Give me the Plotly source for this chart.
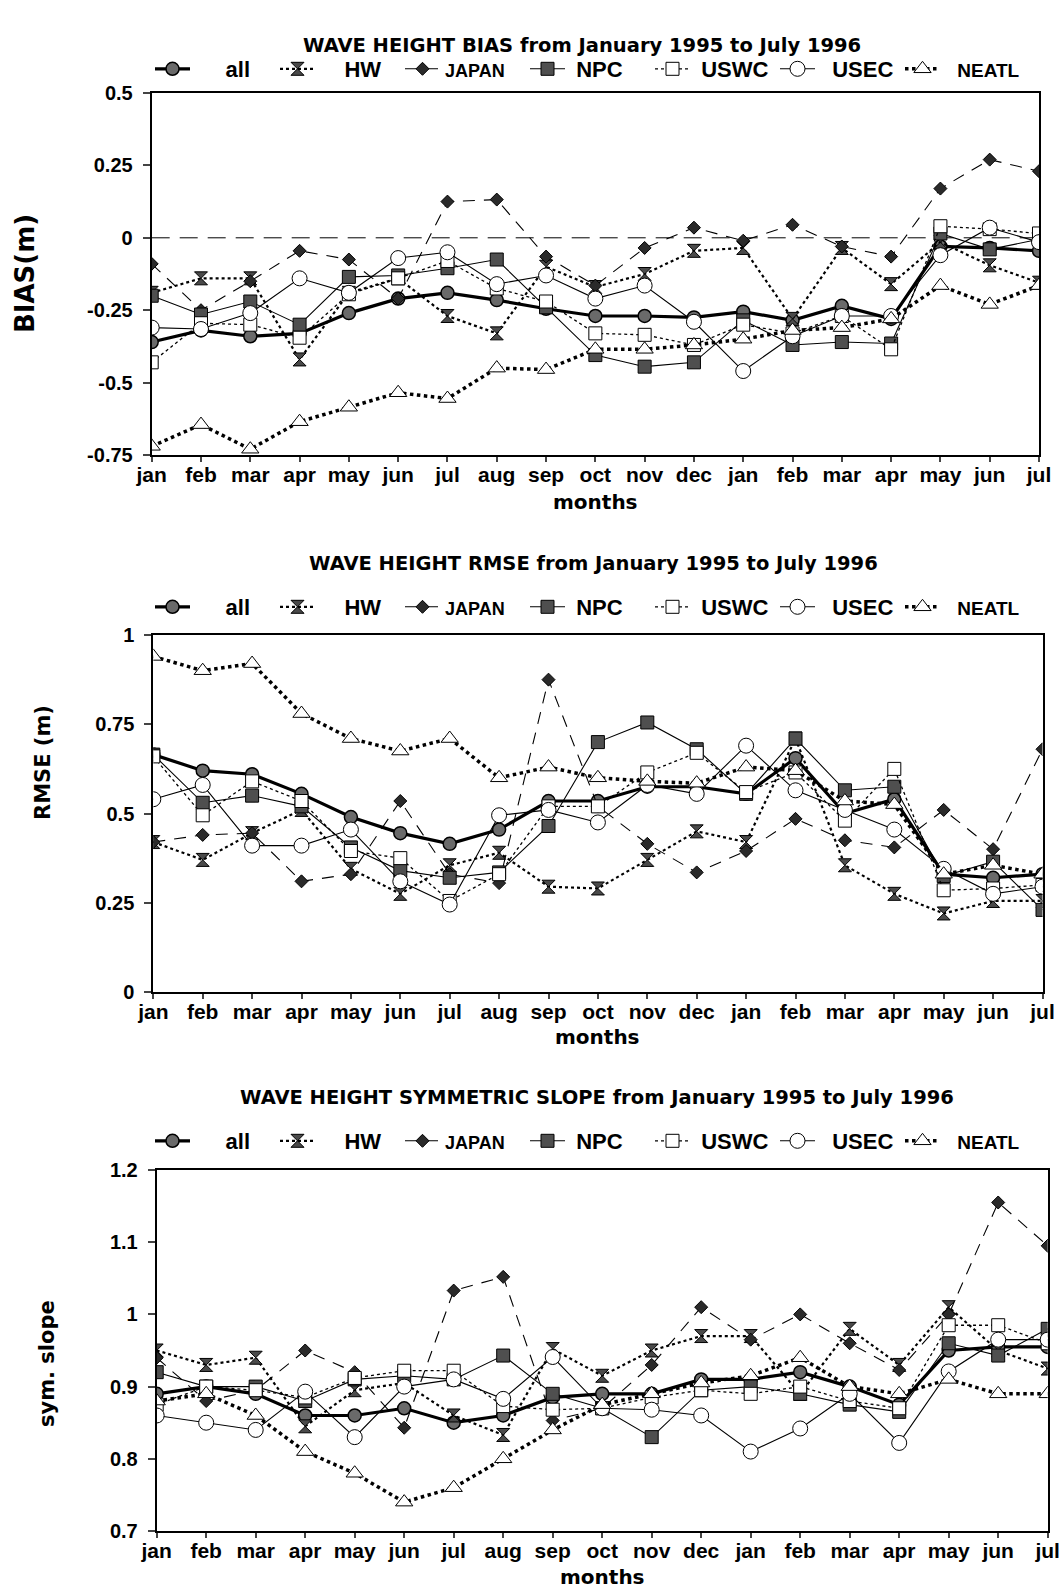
import plotly.graph_objects as go

months = ["jan", "feb", "mar", "apr", "may", "jun", "jul", "aug", "sep", "oct",
          "nov", "dec", "jan", "feb", "mar", "apr", "may", "jun", "jul"]
series_names = ["all", "HW", "JAPAN", "NPC", "USWC", "USEC", "NEATL"]

# ---- BIAS (m) ----
bias_all = [-0.36, -0.32, -0.34, -0.33, -0.26, -0.21, -0.19, -0.215, -0.245, -0.27,
            -0.27, -0.275, -0.255, -0.285, -0.235, -0.28, -0.03, -0.035, -0.045]
bias_hw = [-0.19, -0.14, -0.14, -0.42, -0.19, -0.14, -0.27, -0.33, -0.10, -0.17,
           -0.125, -0.045, -0.035, -0.28, -0.035, -0.16, -0.015, -0.095, -0.155]
bias_japan = [-0.09, -0.25, -0.15, -0.045, -0.075, -0.21, 0.125, 0.132, -0.065, -0.165,
              -0.035, 0.035, -0.01, 0.045, -0.03, -0.065, 0.17, 0.27, 0.23]
bias_npc = [-0.20, -0.265, -0.22, -0.30, -0.135, -0.13, -0.105, -0.075, -0.24, -0.405,
            -0.445, -0.43, -0.285, -0.37, -0.36, -0.365, 0.015, -0.04, -0.005]
bias_uswc = [-0.43, -0.295, -0.30, -0.345, -0.195, -0.14, -0.08, -0.175, -0.22, -0.33,
             -0.335, -0.37, -0.30, -0.33, -0.27, -0.385, 0.04, 0.03, 0.015]
bias_usec = [-0.31, -0.315, -0.26, -0.14, -0.19, -0.07, -0.05, -0.16, -0.13, -0.21,
             -0.165, -0.29, -0.46, -0.34, -0.27, -0.27, -0.06, 0.035, -0.015]
bias_neatl = [-0.72, -0.645, -0.73, -0.635, -0.585, -0.535, -0.555, -0.45, -0.455, -0.385,
              -0.385, -0.37, -0.35, -0.32, -0.31, -0.28, -0.165, -0.23, -0.165]

# ---- RMSE (m) ----
rmse_all = [0.665, 0.62, 0.61, 0.555, 0.49, 0.445, 0.415, 0.455, 0.535, 0.535,
            0.575, 0.575, 0.555, 0.655, 0.50, 0.54, 0.33, 0.32, 0.33]
rmse_hw = [0.42, 0.37, 0.445, 0.51, 0.345, 0.275, 0.355, 0.39, 0.295, 0.29,
           0.37, 0.45, 0.42, 0.71, 0.355, 0.275, 0.22, 0.255, 0.255]
rmse_japan = [0.42, 0.44, 0.445, 0.31, 0.33, 0.535, 0.33, 0.305, 0.875, 0.52,
              0.415, 0.335, 0.395, 0.485, 0.425, 0.405, 0.51, 0.40, 0.68]
rmse_npc = [0.665, 0.53, 0.55, 0.52, 0.405, 0.34, 0.32, 0.335, 0.465, 0.70,
            0.755, 0.68, 0.555, 0.71, 0.565, 0.575, 0.325, 0.365, 0.23]
rmse_uswc = [0.66, 0.495, 0.59, 0.535, 0.395, 0.375, 0.255, 0.33, 0.52, 0.52,
             0.615, 0.67, 0.56, 0.615, 0.48, 0.625, 0.285, 0.29, 0.30]
rmse_usec = [0.54, 0.58, 0.41, 0.41, 0.455, 0.31, 0.245, 0.495, 0.51, 0.475,
             0.58, 0.555, 0.69, 0.565, 0.51, 0.455, 0.345, 0.275, 0.295]
rmse_neatl = [0.94, 0.90, 0.92, 0.78, 0.71, 0.675, 0.71, 0.60, 0.63, 0.60,
              0.59, 0.585, 0.63, 0.62, 0.535, 0.525, 0.33, 0.355, 0.33]

# ---- symmetric slope ----
slope_all = [0.89, 0.90, 0.89, 0.86, 0.86, 0.87, 0.85, 0.86, 0.885, 0.89,
             0.89, 0.91, 0.91, 0.92, 0.90, 0.875, 0.95, 0.955, 0.955]
slope_hw = [0.95, 0.93, 0.94, 0.845, 0.895, 0.905, 0.86, 0.833, 0.952, 0.915,
            0.95, 0.97, 0.97, 0.89, 0.98, 0.93, 1.01, 0.95, 0.925]
slope_japan = [0.94, 0.88, 0.895, 0.95, 0.92, 0.843, 1.033, 1.052, 0.853, 0.87,
               0.93, 1.01, 0.965, 1.0, 0.96, 0.923, 1.0, 1.155, 1.095]
slope_npc = [0.92, 0.90, 0.90, 0.88, 0.91, 0.915, 0.91, 0.943, 0.89, 0.87,
             0.83, 0.895, 0.90, 0.89, 0.875, 0.865, 0.96, 0.943, 0.98]
slope_uswc = [0.875, 0.90, 0.895, 0.885, 0.912, 0.922, 0.922, 0.873, 0.868, 0.87,
              0.885, 0.895, 0.89, 0.90, 0.88, 0.87, 0.985, 0.985, 0.96]
slope_usec = [0.86, 0.85, 0.84, 0.893, 0.83, 0.90, 0.91, 0.883, 0.941, 0.87,
              0.868, 0.86, 0.81, 0.842, 0.89, 0.822, 0.921, 0.965, 0.965]
slope_neatl = [0.88, 0.89, 0.86, 0.81, 0.78, 0.74, 0.76, 0.80, 0.84, 0.875,
               0.89, 0.905, 0.915, 0.94, 0.90, 0.89, 0.91, 0.89, 0.89]

bias_tickvals = [-0.75, -0.5, -0.25, 0, 0.25, 0.5]
bias_ticktext = ["-0.75", "-0.5", "-0.25", "0", "0.25", "0.5"]
rmse_tickvals = [0, 0.25, 0.5, 0.75, 1]
rmse_ticktext = ["0", "0.25", "0.5", "0.75", "1"]
slope_tickvals = [0.7, 0.8, 0.9, 1.0, 1.1, 1.2]
slope_ticktext = ["0.7", "0.8", "0.9", "1", "1.1", "1.2"]

titles = ["WAVE HEIGHT BIAS from January 1995 to July 1996",
          "WAVE HEIGHT RMSE from January 1995 to July 1996",
          "WAVE HEIGHT SYMMETRIC SLOPE from January 1995 to July 1996"]
ylabels = ["BIAS(m)", "RMSE (m)", "sym. slope"]

ARIAL = "Liberation Sans, Arial, Helvetica, sans-serif"
WIDE = "DejaVu Sans, Verdana, sans-serif"
W, H = 1059, 1589

styles = {
    "all":   dict(line=dict(color="black", width=3.2, dash="solid"),
                  marker=dict(symbol="circle", size=13, color="#6a6a6a", line=dict(color="black", width=1.5))),
    "HW":    dict(line=dict(color="black", width=2.2, dash="dot"),
                  marker=dict(symbol="hourglass", size=13, color="#4a4a4a", line=dict(color="black", width=1))),
    "JAPAN": dict(line=dict(color="black", width=1.1, dash="12px,9px"),
                  marker=dict(symbol="diamond", size=10, color="#2a2a2a", line=dict(color="black", width=1))),
    "NPC":   dict(line=dict(color="black", width=1.1, dash="solid"),
                  marker=dict(symbol="square", size=13, color="#4f4f4f", line=dict(color="black", width=1))),
    "USWC":  dict(line=dict(color="black", width=1.3, dash="dot"),
                  marker=dict(symbol="square", size=13, color="white", line=dict(color="black", width=1))),
    "USEC":  dict(line=dict(color="black", width=1.1, dash="solid"),
                  marker=dict(symbol="circle", size=15, color="white", line=dict(color="black", width=1))),
    "NEATL": dict(line=dict(color="black", width=3.5, dash="dot"),
                  marker=dict(symbol="triangle-up", size=15, color="white", line=dict(color="black", width=1))),
}
legend_labels = {
    "all": "\u00a0\u00a0\u00a0\u00a0\u00a0<b>all</b>",
    "HW": "\u00a0\u00a0\u00a0\u00a0<b>HW</b>",
    "JAPAN": "<span style='font-size:18px'><b>JAPAN</b></span>",
    "NPC": "\u00a0<b>NPC</b>",
    "USWC": "\u00a0<b>USWC</b>",
    "USEC": "\u00a0\u00a0<b>USEC</b>",
    "NEATL": "\u00a0\u00a0<span style='font-size:19px'><b>NEATL</b></span>",
}

panels = [
    dict(data=[bias_all, bias_hw, bias_japan, bias_npc, bias_uswc, bias_usec, bias_neatl],
         rng=[-0.75, 0.5], tv=bias_tickvals, tt=bias_ticktext,
         xdom=(151.7, 1039.0), ydom=(93, 455), title=(582, 45), leg_y=69, months_y=502,
         ylab=(25, 274), ylab_size=26),
    dict(data=[rmse_all, rmse_hw, rmse_japan, rmse_npc, rmse_uswc, rmse_usec, rmse_neatl],
         rng=[0, 1], tv=rmse_tickvals, tt=rmse_ticktext,
         xdom=(153.3, 1042.5), ydom=(635, 992), title=(593, 564), leg_y=607, months_y=1037,
         ylab=(43, 763), ylab_size=21),
    dict(data=[slope_all, slope_hw, slope_japan, slope_npc, slope_uswc, slope_usec, slope_neatl],
         rng=[0.7, 1.2], tv=slope_tickvals, tt=slope_ticktext,
         xdom=(156.7, 1047.7), ydom=(1170, 1531), title=(597, 1097), leg_y=1141, months_y=1577,
         ylab=(47, 1364), ylab_size=21),
]

fig = go.Figure()
xs = list(range(len(months)))
annotations = []
layout_axes = {}

for i, p in enumerate(panels):
    n = "" if i == 0 else str(i + 1)
    xa, ya = "x" + n, "y" + n
    leg = "legend" + n
    for name, vals in zip(series_names, p["data"]):
        st = styles[name]
        fig.add_trace(go.Scatter(
            x=xs, y=vals, mode="lines+markers", name=legend_labels[name],
            line=st["line"], marker=st["marker"], xaxis=xa, yaxis=ya,
            legend=leg, cliponaxis=True, showlegend=True))
    x0, x1 = p["xdom"]
    y0, y1 = p["ydom"]
    layout_axes["xaxis" + n] = dict(
        domain=[x0 / W, x1 / W], range=[0, 18], anchor=ya,
        tickvals=xs, ticktext=months, ticks="outside", ticklen=5, tickwidth=1.5,
        ticklabelstandoff=-5, ticklabeloverflow="allow",
        showline=True, mirror=True, linecolor="black", linewidth=2,
        showgrid=False, zeroline=False,
        tickfont=dict(family=ARIAL, size=21, color="black", weight="bold"))
    layout_axes["yaxis" + n] = dict(
        domain=[1 - y1 / H, 1 - y0 / H], range=p["rng"], anchor=xa,
        tickvals=p["tv"], ticktext=p["tt"], ticks="outside", ticklen=7, tickwidth=1.5,
        ticklabelstandoff=6, ticklabeloverflow="allow",
        showline=True, mirror=True, linecolor="black", linewidth=2,
        showgrid=False, zeroline=False,
        tickfont=dict(family=ARIAL, size=20, color="black", weight="bold"))
    layout_axes[leg] = dict(
        orientation="h", x=150 / W, xanchor="left", y=1 - p["leg_y"] / H, yanchor="middle",
        entrywidth=75, entrywidthmode="pixels", itemwidth=35,
        font=dict(family=ARIAL, size=22, color="black"),
        bgcolor="rgba(0,0,0,0)", borderwidth=0, tracegroupgap=0)
    tx, ty = p["title"]
    annotations.append(dict(
        text="<b>" + titles[i] + "</b>", x=tx / W, y=1 - ty / H,
        xref="paper", yref="paper", showarrow=False, xanchor="center", yanchor="middle",
        font=dict(family=WIDE, size=19.5, color="black")))
    annotations.append(dict(
        text="<b>months</b>", x=(x0 + x1) / 2 / W, y=1 - p["months_y"] / H,
        xref="paper", yref="paper", showarrow=False, xanchor="center", yanchor="middle",
        font=dict(family=WIDE, size=20, color="black")))
    lx, ly = p["ylab"]
    annotations.append(dict(
        text="<b>" + ylabels[i] + "</b>", x=lx / W, y=1 - ly / H,
        xref="paper", yref="paper", showarrow=False, textangle=-90,
        xanchor="center", yanchor="middle",
        font=dict(family=WIDE, size=p["ylab_size"], color="black")))

fig.add_shape(type="line", xref="x domain", yref="y", x0=0, x1=1, y0=0, y1=0,
              line=dict(color="black", width=1, dash="18px,10px"), layer="below")

fig.update_layout(
    width=W, height=H, margin=dict(l=0, r=0, t=0, b=0, autoexpand=False),
    paper_bgcolor="white", plot_bgcolor="white",
    annotations=annotations, **layout_axes)

fig.write_html("out.html")
